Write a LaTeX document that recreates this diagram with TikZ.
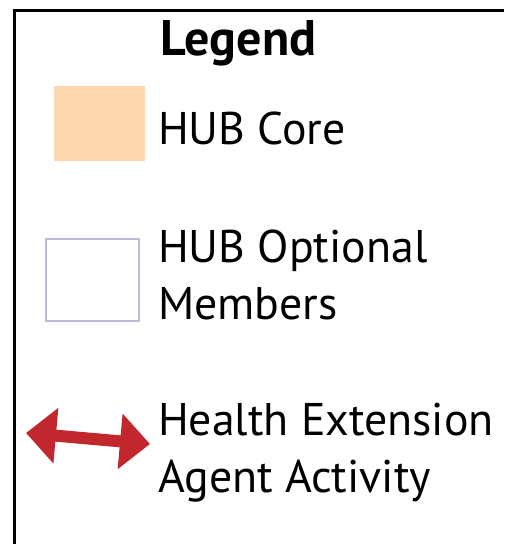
\documentclass[tikz,border=0pt]{standalone}
\usepackage{fontspec}
\setmainfont{PT Sans}
\usetikzlibrary{arrows.meta,positioning}

\definecolor{corefill}{HTML}{FDD5AE}
\definecolor{optline}{HTML}{BBBBD9}
\definecolor{agentred}{HTML}{C1272D}

\begin{document}
\begin{tikzpicture}[x=1pt, y=-1pt,
    entry/.style={anchor=base west, inner sep=0pt, font=\fontsize{45.8}{57}\selectfont},
    title/.style={anchor=base, inner sep=0pt, font=\fontsize{50}{57}\selectfont\bfseries}]
  \useasboundingbox (0,0) rectangle (504,544);
  % frame
  \draw[line width=3pt] (14,544) -- (14,10) -- (504,10);
  \node[title] (legend) at (238.5,55) {Legend};
  % HUB core
  \fill[corefill] (54,86) rectangle (145,161);
  \node[entry] (core) at (158,144) {HUB Core};
  % optional members
  \draw[optline, line width=2pt] (46,239) rectangle (139,321);
  \node[entry] (opt1) at (158,262) {HUB Optional};
  \node[entry] (opt2) at (158,319) {Members};
  % agent activity
  \coordinate (tipl) at (26,433);
  \coordinate (tipr) at (150,444);
  \draw[agentred, line width=12pt,
        {Triangle[length=30pt, width=54pt]}-{Triangle[length=30pt, width=54pt]}] (tipl) -- (tipr);
  \node[entry] (hea1) at (158,435) {Health Extension};
  \node[entry] (hea2) at (158,492) {Agent Activity};
\end{tikzpicture}
\end{document}
